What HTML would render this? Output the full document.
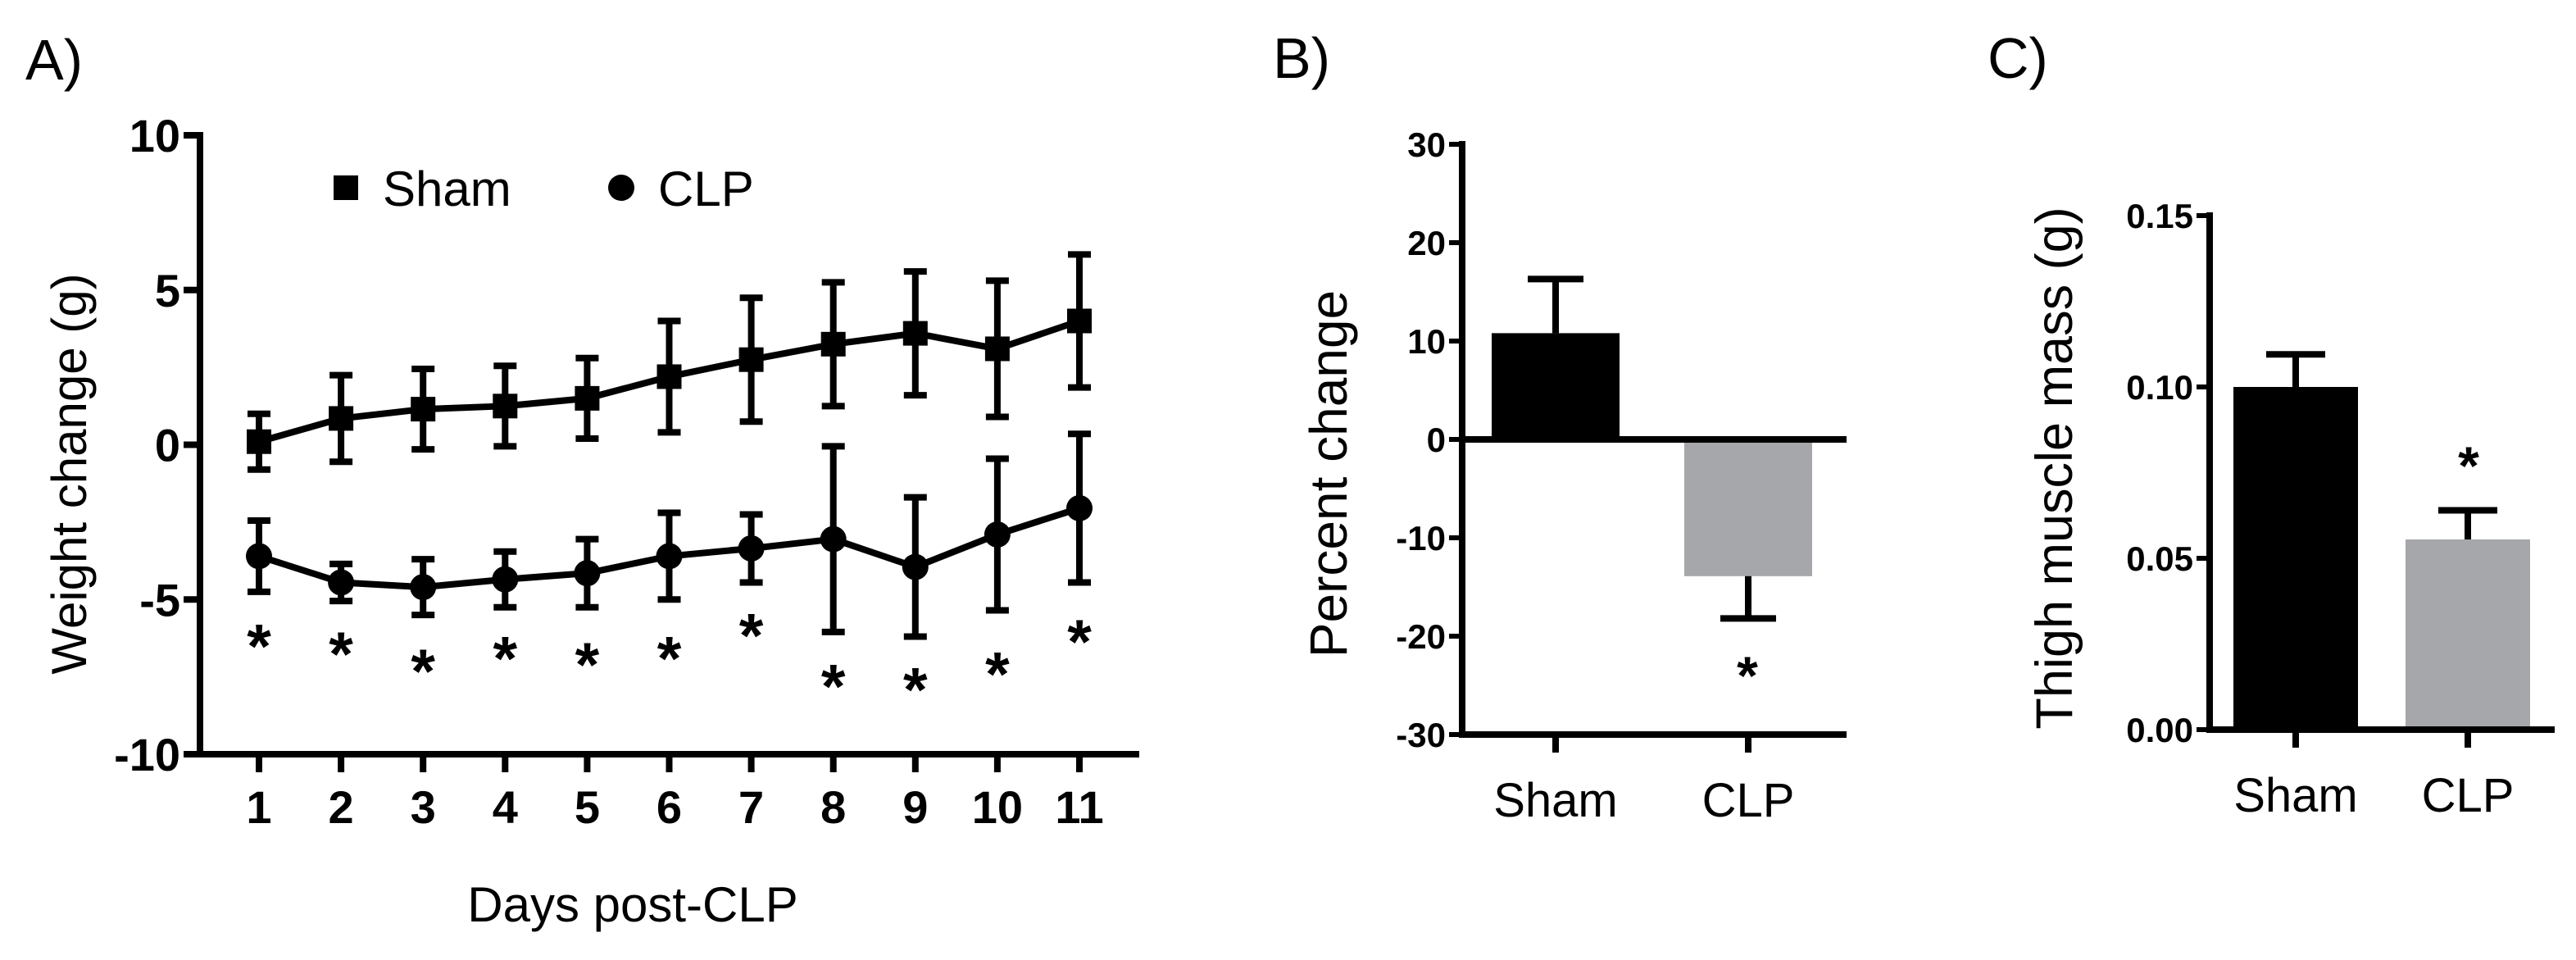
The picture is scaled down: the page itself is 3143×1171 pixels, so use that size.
<!DOCTYPE html>
<html><head><meta charset="utf-8"><style>
html,body{margin:0;padding:0;background:#fff;}
svg{display:block;font-family:"Liberation Sans",sans-serif;}
</style></head><body>
<svg id="fig" width="3143" height="1171" viewBox="0 0 3143 1171"></svg>
<script>
// Panel A data
const days = [1,2,3,4,5,6,7,8,9,10,11];
const shamMean = [0.1,0.85,1.15,1.25,1.5,2.2,2.75,3.25,3.6,3.1,4.0];
const shamErr = [0.9,1.4,1.3,1.3,1.3,1.8,2.0,2.0,2.0,2.2,2.15];
const clpMean = [-3.6,-4.45,-4.6,-4.35,-4.15,-3.6,-3.35,-3.05,-3.95,-2.9,-2.05];
const clpErr = [1.15,0.6,0.9,0.9,1.1,1.4,1.1,3.0,2.25,2.45,2.4];
const starY = [-6.2,-6.45,-7.0,-6.6,-6.8,-6.6,-5.85,-7.5,-7.6,-7.1,-6.05];
const aTicks = [10,5,0,-5,-10];
// Panel B data
const bCats = ["Sham","CLP"];
const bVals = [10.8,-13.9];
const bErr = [5.5,4.3];
const bTicks = [30,20,10,0,-10,-20,-30];
// Panel C data
const cCats = ["Sham","CLP"];
const cVals = [0.1,0.0555];
const cErr = [0.0095,0.0085];
const cTicks = [0.15,0.10,0.05,0.00];

const NS="http://www.w3.org/2000/svg";
const svg=document.getElementById('fig');
function mk(tag,attrs,parent,text){const e=document.createElementNS(NS,tag);for(const k in attrs)e.setAttribute(k,attrs[k]);if(text!==undefined)e.textContent=text;(parent||svg).appendChild(e);return e;}
function grp(name){const g=mk('g',{});


return g;}
const LW=8;

// ---------- Panel A ----------
const gA=grp('panel-a');
const ax=d=>316+(d-1)*100.1;
const ay=v=>542.5-v*37.75;
let t=mk('text',{x:31,y:97,'font-size':70},gA,'A)');

mk('line',{x1:244,y1:ay(10)-4,x2:244,y2:ay(-10)+4,stroke:'#000','stroke-width':LW},gA);
mk('line',{x1:240,y1:ay(-10),x2:1390,y2:ay(-10),stroke:'#000','stroke-width':LW},gA);
aTicks.forEach(v=>{
 mk('line',{x1:224,y1:ay(v),x2:244,y2:ay(v),stroke:'#000','stroke-width':LW},gA);
 const tl=mk('text',{x:220,y:ay(v)+20,'text-anchor':'end','font-size':56,'font-weight':'bold'},gA,String(v));
 
});
days.forEach(d=>{
 mk('line',{x1:ax(d),y1:ay(-10),x2:ax(d),y2:942,stroke:'#000','stroke-width':LW},gA);
 const tl=mk('text',{x:ax(d),y:1004,'text-anchor':'middle','font-size':56,'font-weight':'bold'},gA,String(d));
 
});
t=mk('text',{x:0,y:0,'font-size':60,'text-anchor':'middle',transform:'translate(105,578) rotate(-90)'},gA,'Weight change (g)');

t=mk('text',{x:772,y:1124,'font-size':60,'text-anchor':'middle'},gA,'Days post-CLP');

function series(mean,err,marker,name){
 const g=grp(name);gA.appendChild(g);
 mk('polyline',{points:days.map((d,i)=>ax(d)+','+ay(mean[i])).join(' '),fill:'none',stroke:'#000','stroke-width':LW},g);
 days.forEach((d,i)=>{
  const x=ax(d),y1=ay(mean[i]+err[i]),y2=ay(mean[i]-err[i]);
  mk('line',{x1:x,y1:y1,x2:x,y2:y2,stroke:'#000','stroke-width':LW},g);
  mk('line',{x1:x-14,y1:y1,x2:x+14,y2:y1,stroke:'#000','stroke-width':LW},g);
  mk('line',{x1:x-14,y1:y2,x2:x+14,y2:y2,stroke:'#000','stroke-width':LW},g);
  let m;
  if(marker==='sq') m=mk('rect',{x:x-15,y:ay(mean[i])-15,width:30,height:30,fill:'#000'},g);
  else m=mk('circle',{cx:x,cy:ay(mean[i]),r:16,fill:'#000'},g);
  
 });
}
series(shamMean,shamErr,'sq','sham-series');
series(clpMean,clpErr,'ci','clp-series');
days.forEach((d,i)=>{
 const s=mk('text',{x:ax(d),y:ay(starY[i])+38,'text-anchor':'middle','font-size':76,'font-weight':'bold'},gA,'*');
 
});
const lg=grp('legend');gA.appendChild(lg);
mk('rect',{x:407,y:214,width:30,height:30,fill:'#000'},lg);
t=mk('text',{x:467,y:251,'font-size':60},lg,'Sham');
mk('circle',{cx:758,cy:229,r:16,fill:'#000'},lg);
t=mk('text',{x:803,y:251,'font-size':60},lg,'CLP');

// ---------- bar panel helper ----------
function barPanel(o){
 const g=grp(o.name);
 const y=v=>o.y0+(v-o.vmin)/(o.vmax-o.vmin)*(o.yTop-o.y0);
 let t=mk('text',{x:o.lx,y:95,'font-size':70},g,o.letter);
 
 mk('line',{x1:o.axX,y1:y(o.vmax)-4,x2:o.axX,y2:y(o.vmin)+4,stroke:'#000','stroke-width':LW},g);
 o.ticks.forEach(v=>{
  mk('line',{x1:o.axX-16,y1:y(v),x2:o.axX,y2:y(v),stroke:'#000','stroke-width':6},g);
  const tl=mk('text',{x:o.axX-20,y:y(v)+15,'text-anchor':'end','font-size':42,'font-weight':'bold'},g,o.fmt(v));
  
 });
 o.cats.forEach((c,i)=>{
  const cx=o.cx[i],v=o.vals[i],e=o.err[i];
  const b=mk('rect',{x:cx-o.bw/2,y:Math.min(y(v),y(o.base)),width:o.bw,height:Math.abs(y(v)-y(o.base)),fill:o.colors[i]},g);
  
  const ye=y(v+(v>=0?e:-e));
  mk('line',{x1:cx,y1:y(v),x2:cx,y2:ye,stroke:'#000','stroke-width':LW},g);
  mk('line',{x1:cx-o.cap,y1:ye,x2:cx+o.cap,y2:ye,stroke:'#000','stroke-width':LW},g);
  mk('line',{x1:cx,y1:y(o.vmin),x2:cx,y2:y(o.vmin)+22,stroke:'#000','stroke-width':LW},g);
  const tl=mk('text',{x:cx,y:y(o.vmin)+100,'text-anchor':'middle','font-size':58},g,c);
  
 });
 mk('line',{x1:o.axX-4,y1:y(o.vmin),x2:o.xEnd,y2:y(o.vmin),stroke:'#000','stroke-width':LW},g);
 if(o.base!==o.vmin) mk('line',{x1:o.axX,y1:y(o.base),x2:o.xEnd,y2:y(o.base),stroke:'#000','stroke-width':LW},g);
 const s=mk('text',{x:o.starX,y:o.starY+32,'text-anchor':'middle','font-size':66,'font-weight':'bold'},g,'*');
 
 t=mk('text',{x:0,y:0,'font-size':o.tfs,'text-anchor':'middle',transform:'translate('+o.titleX+','+o.titleY+') rotate(-90)'},g,o.title);
 
}
barPanel({name:'panel-b',letter:'B)',lx:1553,axX:1784,y0:896,yTop:176,vmin:-30,vmax:30,base:0,ticks:bTicks,fmt:v=>String(v),
 cats:bCats,vals:bVals,err:bErr,cx:[1898,2133],bw:156,cap:34,colors:['#000','#a6a7aa'],xEnd:2253,starX:2132,starY:815,
 title:'Percent change',titleX:1643,titleY:578,tfs:64});
barPanel({name:'panel-c',letter:'C)',lx:2425,axX:2696,y0:890,yTop:263,vmin:0,vmax:0.15,base:0,ticks:cTicks,fmt:v=>v.toFixed(2),
 cats:cCats,vals:cVals,err:cErr,cx:[2801,3011],bw:152,cap:36,colors:['#000','#a6a7aa'],xEnd:3117,starX:3012,starY:559,
 title:'Thigh muscle mass (g)',titleX:2528,titleY:571,tfs:63});
</script>
</body></html>
